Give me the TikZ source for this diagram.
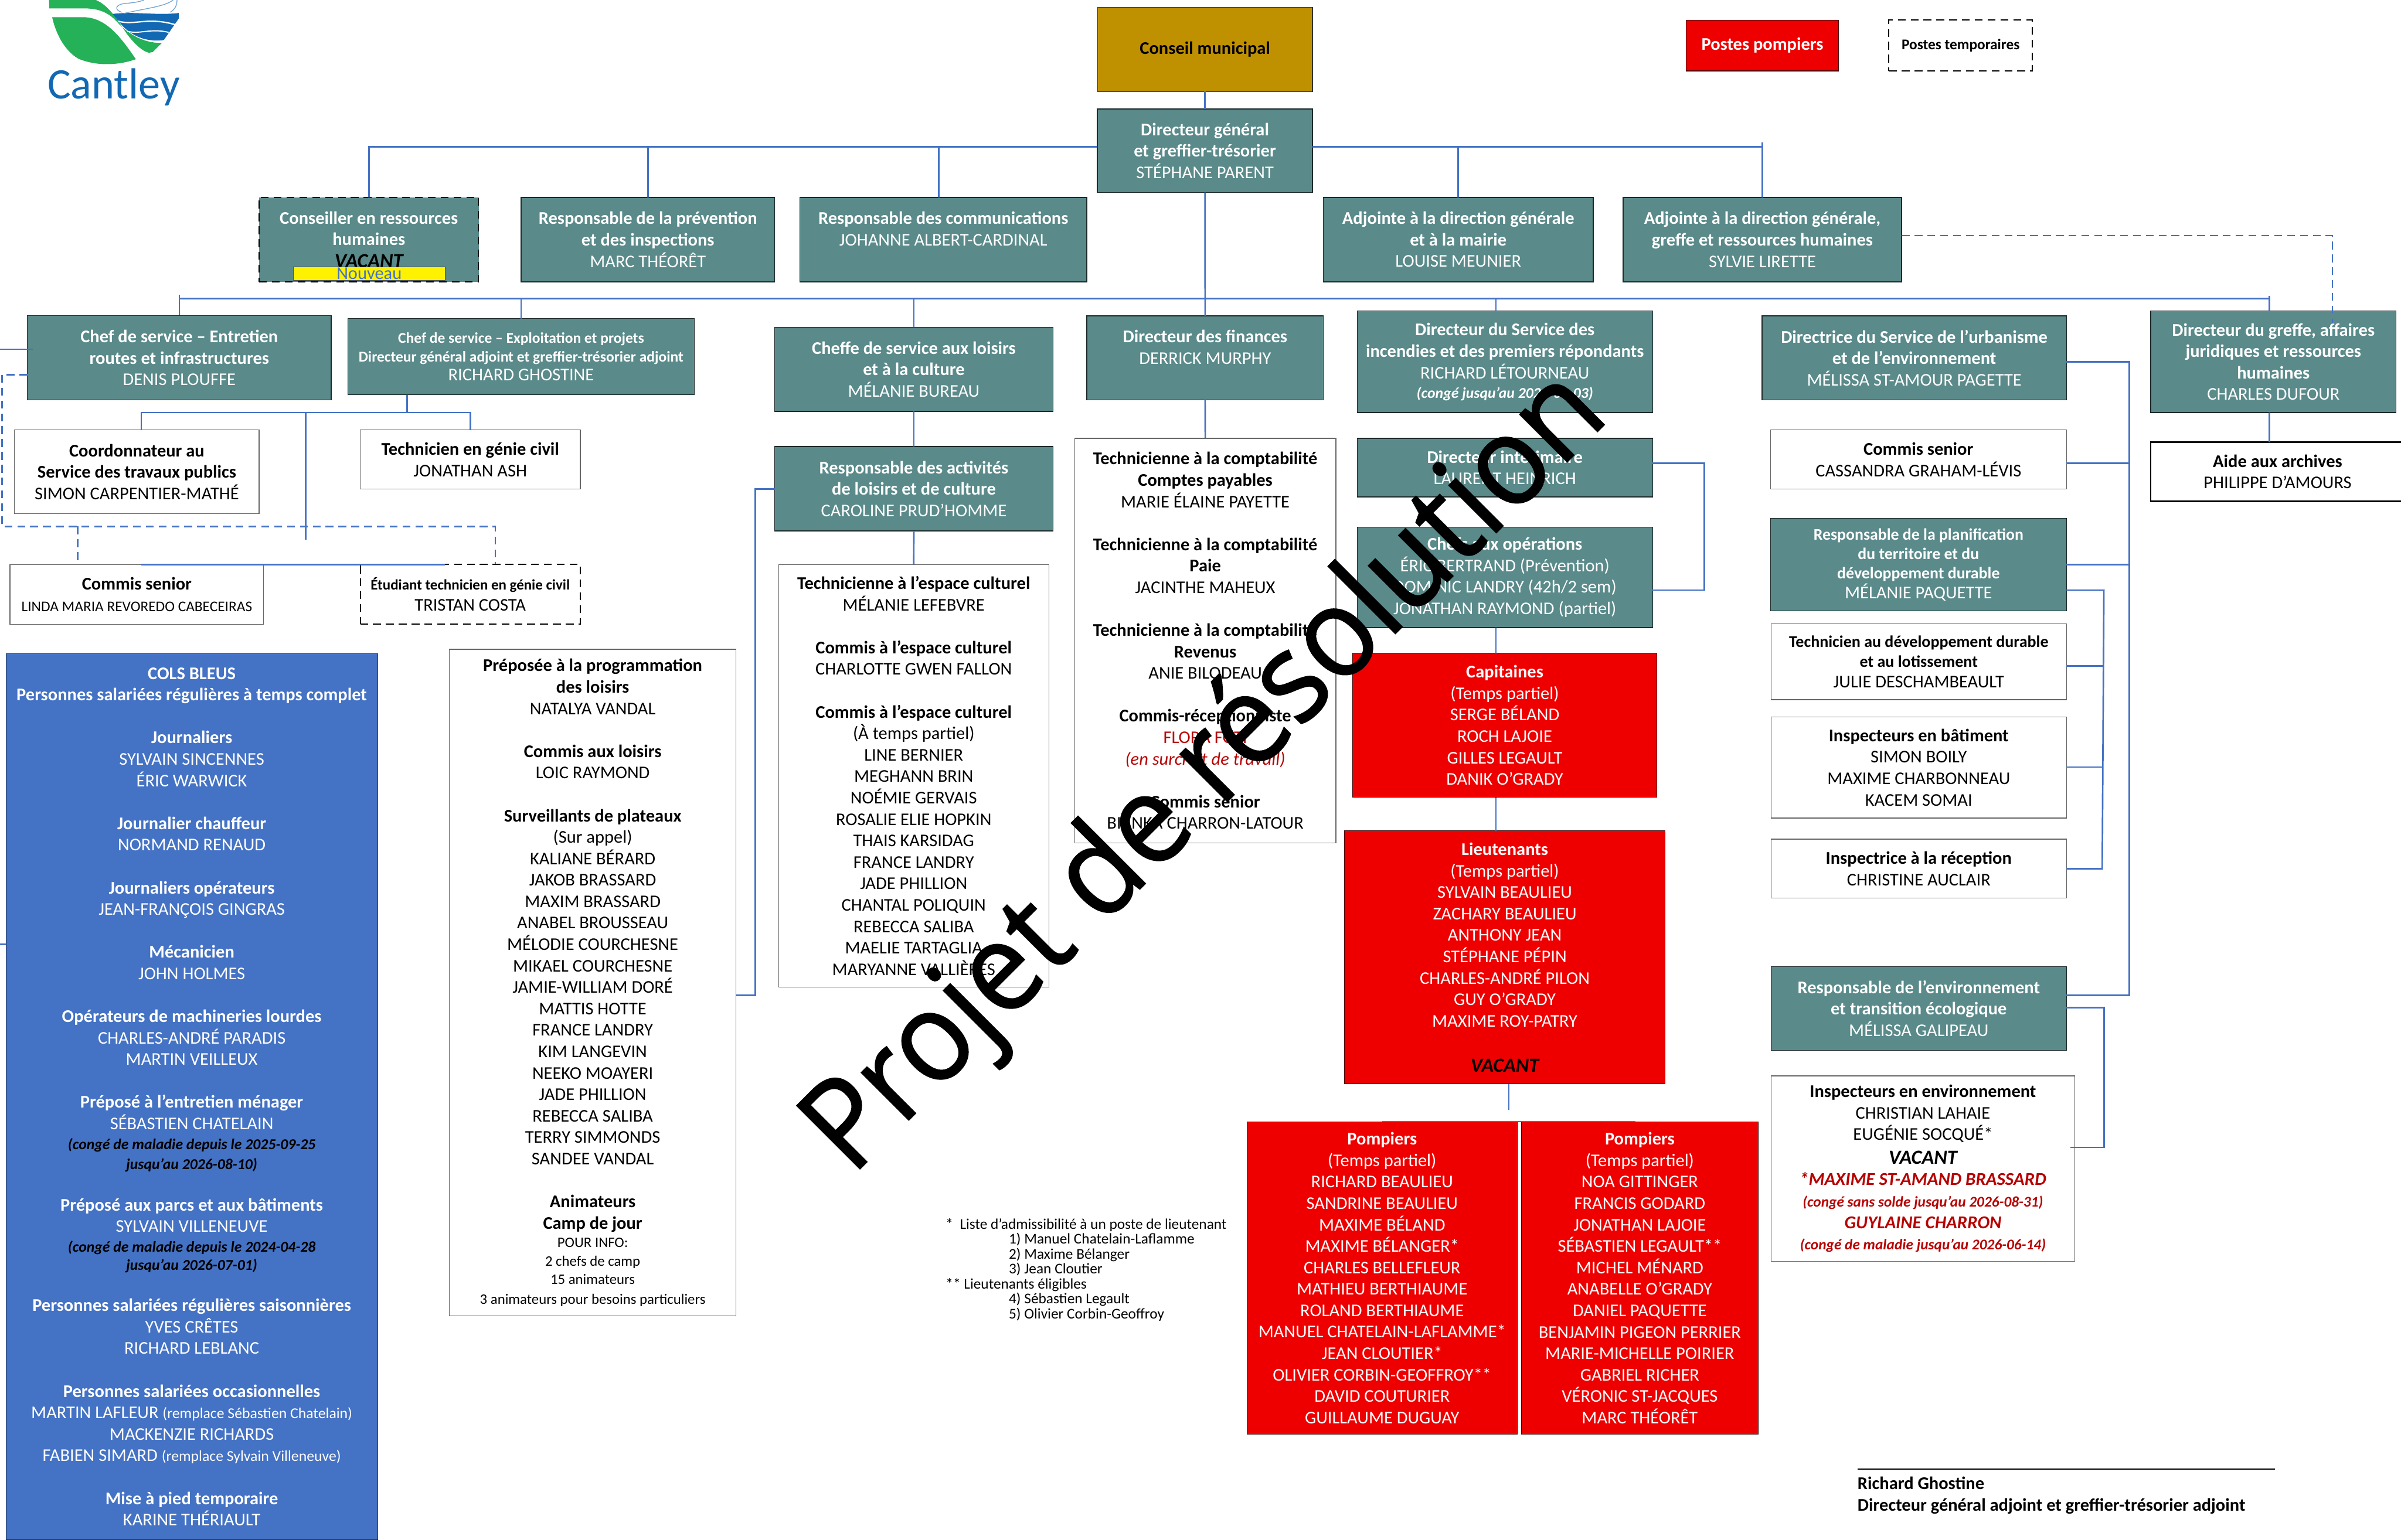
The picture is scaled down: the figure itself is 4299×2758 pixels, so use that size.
\documentclass[tikz,border=0pt]{standalone}
\usepackage{fontspec}
\setmainfont{Carlito}
\newfontfamily\wmfont[FakeStretch=0.935,FakeBold=1]{Open Sans}
\usetikzlibrary{calc}
\definecolor{tealb}{HTML}{5A8A8A}
\definecolor{goldb}{HTML}{BF9000}
\definecolor{redb}{HTML}{EE0000}
\definecolor{blueb}{HTML}{4472C4}
\definecolor{redt}{HTML}{B80000}
\definecolor{logoblue}{HTML}{1268B3}
\definecolor{logogreen}{HTML}{25B157}
\newcommand\bo[1]{{\bfseries #1}}
\newcommand\szz[1]{\fontsize{#1}{\baselineskip}\selectfont}
\newcommand\bi[1]{{\bfseries\itshape #1}}
\newcommand\bx[7]{\node[#2,minimum width={(#5-#3)*0.5pt},minimum height={(#6-#4)*0.5pt}] (#1) at ({(#3+#5)/2},{(#4+#6)/2}) {#7};}
\tikzset{
  fnt/.style n args={2}{font=\fontsize{#1}{#2}\selectfont},
  base/.style={inner sep=0pt,outer sep=0pt,align=center,text centered,fnt={16}{19.2}},
  tealbox/.style={base,fill=tealb,draw=black!70!tealb,line width=0.8pt,text=white},
  whitebox/.style={base,fill=white,draw=black!60,line width=0.7pt,text=black},
  blackbox/.style={base,fill=white,draw=black,line width=1.2pt,text=black},
  dashbox/.style={base,fill=white,draw=black,line width=1pt,dash pattern=on 7pt off 4.5pt,text=black},
  tealdash/.style={tealbox,draw=black,line width=1pt,dash pattern=on 7pt off 4.5pt},
  redbox/.style={base,fill=redb,draw=black!70!redb,line width=0.6pt,text=white},
  goldbox/.style={base,fill=goldb,draw=black!80,line width=0.6pt,text=black},
  bluebox/.style={base,fill=blueb,draw=black!60!blueb,line width=0.6pt,text=white},
  link/.style={draw=blueb,line width=1.4pt},
  dlink/.style={draw=blueb,line width=1.3pt,dash pattern=on 7pt off 4.5pt},
}
\begin{document}
\begin{tikzpicture}[x=0.5pt,y=-0.5pt]
\useasboundingbox (0,0) rectangle (4299,2758);
% logo
\fill[logogreen] (87.7,0) -- (171.7,0) .. controls (195,10) and (210,35) .. (226.7,60) .. controls (240,78) and (255,92) .. (266.7,94.5) -- (273.3,93.3) -- (290,76.7) .. controls (260,78) and (233,63) .. (213.3,43.3) .. controls (200,28) and (185,15) .. (150,15) -- (88.3,15) -- cycle;
\fill[logogreen] (93.3,30.7) -- (150,30.7) .. controls (190,32) and (215,65) .. (243.3,106) .. controls (210,118) and (170,118) .. (140,105) .. controls (115,90) and (100,60) .. (93.3,30.7) -- cycle;
\fill[logoblue] (201.7,25) .. controls (240,20) and (280,28) .. (320,23.3) -- (320,33.3) -- (293.3,71.7) .. controls (270,75) and (240,70) .. (216.7,43.3) -- cycle;
\draw[white,line width=1.2pt] (212,38) .. controls (240,46) and (265,30) .. (313,44);
\draw[white,line width=1pt] (228,56) .. controls (250,62) and (270,50) .. (302,58);
\draw[logoblue!60,line width=0.7pt] (218,22) .. controls (205,18) and (205,8) .. (225,6) .. controls (240,5) and (250,3) .. (258,0);
\draw[logoblue!60,line width=0.7pt] (222,24) .. controls (260,15) and (295,12) .. (310,0);
\draw[logoblue!60,line width=0.7pt] (305,22) .. controls (315,15) and (317,8) .. (317,0);
\node[anchor=base west,inner sep=0pt,text=logoblue,font=\fontsize{39}{39}\selectfont] (logotext) at (85,176.7) {Cantley};
% boxes row 0
\bx{conseil}{goldbox}{1965}{13}{2350}{164}{\bo{Conseil municipal}}
\bx{pompiers}{redbox}{3019}{36}{3292}{127}{\bo{Postes pompiers}}
\bx{temporaires}{dashbox,fnt={13.3}{16}}{3382}{36}{3639}{127}{\bo{Postes temporaires}}
\bx{dg}{tealbox}{1965}{195}{2350}{345}{\bo{Directeur général}\\\bo{et greffier-trésorier}\\STÉPHANE PARENT}
% row 1
\bx{conseiller}{tealdash}{464}{353.5}{857}{504.6}{\bo{Conseiller en ressources}\\\bo{humaines}\\[0.7pt]{\color{black}\bi{\szz{18}VACANT}}}
\bx{prevention}{tealbox}{933}{353.5}{1387}{504.6}{\bo{Responsable de la prévention}\\\bo{et des inspections}\\MARC THÉORÊT}
\bx{comms}{tealbox}{1432}{353.5}{1946}{504.6}{\bo{Responsable des communications}\\JOHANNE ALBERT-CARDINAL\\~}
\bx{mairie}{tealbox}{2369.5}{353.5}{2852.6}{504.6}{\bo{Adjointe à la direction générale}\\\bo{et à la mairie}\\LOUISE MEUNIER}
\bx{greffeadj}{tealbox}{2906}{353.5}{3405}{504.6}{\bo{Adjointe à la direction générale,}\\\bo{greffe et ressources humaines}\\SYLVIE LIRETTE}
\node[fill=yellow,draw=black!70,line width=0.5pt,inner sep=0pt,minimum width=136pt,minimum height=12pt,text=blueb,fnt={16}{16}] (nouveau) at (661,490) {Nouveau};
% row 2
\bx{entretien}{tealbox}{49}{565}{593}{716.5}{\bo{Chef de service – Entretien}\\\bo{routes et infrastructures}\\DENIS PLOUFFE}
\bx{exploit}{tealbox,fnt={13.4}{16.6}}{623}{570.6}{1243}{707}{\bo{Chef de service – Exploitation et projets}\\\bo{Directeur général adjoint et greffier-trésorier adjoint}\\{\szz{16}RICHARD GHOSTINE}}
\bx{cheffe}{tealbox}{1387}{586}{1885.5}{737}{\bo{Cheffe de service aux loisirs}\\\bo{et à la culture}\\MÉLANIE BUREAU}
\bx{finances}{tealbox}{1946}{565.5}{2369.5}{716.5}{\bo{Directeur des finances}\\DERRICK MURPHY\\~}
\bx{incendies}{tealbox}{2430}{557}{2959}{739}{\bo{Directeur du Service des}\\\bo{incendies et des premiers répondants}\\RICHARD LÉTOURNEAU\\[-1.9pt]\bi{\szz{13.5}(congé jusqu’au 2026-08-03)}}
\bx{urbanisme}{tealbox}{3155}{565.5}{3700}{716.5}{\bo{Directrice du Service de l’urbanisme}\\\bo{et de l’environnement}\\MÉLISSA ST-AMOUR PAGETTE}
\bx{greffe}{tealbox}{3851}{557}{4290}{739}{\bo{Directeur du greffe, affaires}\\\bo{juridiques et ressources}\\\bo{humaines}\\CHARLES DUFOUR}
% row 3
\bx{coordo}{whitebox}{26}{770}{464}{920}{\bo{Coordonnateur au}\\\bo{Service des travaux publics}\\SIMON CARPENTIER-MATHÉ}
\bx{genie}{whitebox}{645}{770}{1039}{876}{\bo{Technicien en génie civil}\\JONATHAN ASH}
\bx{senior}{whitebox}{18}{1011}{472}{1118}{\bo{Commis senior}\\{\szz{13.3}LINDA MARIA REVOREDO CABECEIRAS}}
\bx{etudiant}{dashbox}{645}{1011}{1039}{1118}{\bo{\szz{13.1}Étudiant technicien en génie civil}\\TRISTAN COSTA}
\bx{activites}{tealbox}{1387}{800}{1885.5}{951}{\bo{Responsable des activités}\\\bo{de loisirs et de culture}\\CAROLINE PRUD’HOMME}
\bx{compta}{whitebox}{1924}{785}{2392}{1510}{\bo{Technicienne à la comptabilité}\\\bo{Comptes payables}\\MARIE ÉLAINE PAYETTE\\~\\\bo{Technicienne à la comptabilité}\\\bo{Paie}\\JACINTHE MAHEUX\\~\\\bo{Technicienne à la comptabilité}\\\bo{Revenus}\\ANIE BILODEAU\\~\\\bo{Commis-réceptionniste}\\{\color{redt}FLORA FOTI}\\{\color{redt}\itshape (en surcroît de travail)}\\~\\\bo{Commis senior}\\BIANKA CHARRON-LATOUR}
\bx{culturel}{whitebox}{1394}{1011}{1878}{1768}{\bo{Technicienne à l’espace culturel}\\MÉLANIE LEFEBVRE\\~\\\bo{Commis à l’espace culturel}\\CHARLOTTE GWEN FALLON\\~\\\bo{Commis à l’espace culturel}\\(À temps partiel)\\LINE BERNIER\\MEGHANN BRIN\\NOÉMIE GERVAIS\\ROSALIE ELIE HOPKIN\\THAIS KARSIDAG\\FRANCE LANDRY\\JADE PHILLION\\CHANTAL POLIQUIN\\REBECCA SALIBA\\MAELIE TARTAGLIA\\MARYANNE VALLIÈRES}
\bx{interim}{tealbox}{2430}{785}{2959}{890}{\bo{Directeur intérimaire}\\LAURENT HEINRICH}
\bx{chefsop}{tealbox}{2430}{944}{2959}{1124}{\bo{Chefs aux opérations}\\ÉRIC BERTRAND (Prévention)\\DOMINIC LANDRY (42h/2 sem)\\JONATHAN RAYMOND (partiel)}
\bx{archives}{blackbox}{3851}{792}{4305}{898}{\bo{Aide aux archives}\\PHILIPPE D’AMOURS}
\bx{commisur}{whitebox}{3170}{770}{3700}{876}{\bo{Commis senior}\\CASSANDRA GRAHAM-LÉVIS}
\bx{planif}{tealbox,fnt={14.6}{17.5}}{3170}{928.5}{3700}{1094}{\bo{Responsable de la planification}\\\bo{du territoire et du}\\\bo{développement durable}\\{\szz{16}MÉLANIE PAQUETTE}}
\bx{techdev}{whitebox,fnt={14.7}{18}}{3171}{1117}{3700}{1253}{\bo{Technicien au développement durable}\\\bo{et au lotissement}\\{\szz{16}JULIE DESCHAMBEAULT}}
\bx{inspbat}{whitebox}{3171}{1284}{3700}{1465}{\bo{Inspecteurs en bâtiment}\\SIMON BOILY\\MAXIME CHARBONNEAU\\KACEM SOMAI}
\bx{inspect}{whitebox}{3171}{1503}{3700}{1608.6}{\bo{Inspectrice à la réception}\\CHRISTINE AUCLAIR}
\bx{respenv}{tealbox}{3171}{1731}{3700}{1881.5}{\bo{Responsable de l’environnement}\\\bo{et transition écologique}\\MÉLISSA GALIPEAU}
\bx{inspenv}{whitebox}{3171}{1927}{3715}{2259}{\bo{Inspecteurs en environnement}\\CHRISTIAN LAHAIE\\EUGÉNIE SOCQUÉ*\\[2pt]\bi{\szz{18}VACANT}\\{\color{redt}\bi{\szz{16.2}*MAXIME ST-AMAND BRASSARD}}\\{\color{redt}\bi{\szz{13.3}(congé sans solde jusqu’au 2026-08-31)}}\\{\color{redt}\bi{\szz{16.2}GUYLAINE CHARRON}}\\{\color{redt}\bi{\szz{13.3}(congé de maladie jusqu’au 2026-06-14)}}}
% red
\bx{capitaines}{redbox}{2422}{1170}{2966.5}{1428}{\bo{Capitaines}\\(Temps partiel)\\SERGE BÉLAND\\ROCH LAJOIE\\GILLES LEGAULT\\DANIK O’GRADY}
\bx{lieutenants}{redbox}{2407}{1488}{2981.6}{1941.5}{\bo{Lieutenants}\\(Temps partiel)\\SYLVAIN BEAULIEU\\ZACHARY BEAULIEU\\ANTHONY JEAN\\STÉPHANE PÉPIN\\CHARLES-ANDRÉ PILON\\GUY O’GRADY\\MAXIME ROY-PATRY\\~\\[2pt]{\color{black}\bi{\szz{18}VACANT}}}
\bx{pomp1}{redbox}{2232.6}{2009}{2716.7}{2569}{\bo{Pompiers}\\(Temps partiel)\\RICHARD BEAULIEU\\SANDRINE BEAULIEU\\MAXIME BÉLAND\\MAXIME BÉLANGER*\\CHARLES BELLEFLEUR\\MATHIEU BERTHIAUME\\ROLAND BERTHIAUME\\MANUEL CHATELAIN-LAFLAMME*\\JEAN CLOUTIER*\\OLIVIER CORBIN-GEOFFROY**\\DAVID COUTURIER\\GUILLAUME DUGUAY}
\bx{pomp2}{redbox}{2724}{2009}{3148}{2569}{\bo{Pompiers}\\(Temps partiel)\\NOA GITTINGER\\FRANCIS GODARD\\JONATHAN LAJOIE\\SÉBASTIEN LEGAULT**\\MICHEL MÉNARD\\ANABELLE O’GRADY\\DANIEL PAQUETTE\\BENJAMIN PIGEON PERRIER\\MARIE-MICHELLE POIRIER\\GABRIEL RICHER\\VÉRONIC ST-JACQUES\\MARC THÉORÊT}
% bottom left
\bx{cols}{bluebox}{10.7}{1170.5}{676}{2758}{\bo{COLS BLEUS}\\\bo{Personnes salariées régulières à temps complet}\\~\\\bo{Journaliers}\\SYLVAIN SINCENNES\\ÉRIC WARWICK\\~\\\bo{Journalier chauffeur}\\NORMAND RENAUD\\~\\\bo{Journaliers opérateurs}\\JEAN-FRANÇOIS GINGRAS\\~\\\bo{Mécanicien}\\JOHN HOLMES\\~\\\bo{Opérateurs de machineries lourdes}\\CHARLES-ANDRÉ PARADIS\\MARTIN VEILLEUX\\~\\\bo{Préposé à l’entretien ménager}\\SÉBASTIEN CHATELAIN\\[-1.5pt]{\color{black}\bi{\szz{13.5}(congé de maladie depuis le 2025-09-25}}\\[-1pt]{\color{black}\bi{\szz{13.5}jusqu’au 2026-08-10)}}\\[-1.5pt]~\\\bo{Préposé aux parcs et aux bâtiments}\\SYLVAIN VILLENEUVE\\[-1.5pt]{\color{black}\bi{\szz{13.5}(congé de maladie depuis le 2024-04-28}}\\[-3pt]{\color{black}\bi{\szz{13.5}jusqu’au 2026-07-01)}}\\[-1.5pt]~\\\bo{Personnes salariées régulières saisonnières}\\YVES CRÊTES\\RICHARD LEBLANC\\~\\\bo{Personnes salariées occasionnelles}\\MARTIN LAFLEUR {\szz{13.5}(remplace Sébastien Chatelain)}\\MACKENZIE RICHARDS\\FABIEN SIMARD {\szz{13.5}(remplace Sylvain Villeneuve)}\\~\\\bo{Mise à pied temporaire}\\KARINE THÉRIAULT}
\bx{programmation}{whitebox}{804.5}{1163}{1318}{2357}{\bo{Préposée à la programmation}\\\bo{des loisirs}\\NATALYA VANDAL\\~\\\bo{Commis aux loisirs}\\LOIC RAYMOND\\~\\\bo{Surveillants de plateaux}\\(Sur appel)\\KALIANE BÉRARD\\JAKOB BRASSARD\\MAXIM BRASSARD\\ANABEL BROUSSEAU\\MÉLODIE COURCHESNE\\MIKAEL COURCHESNE\\JAMIE-WILLIAM DORÉ\\MATTIS HOTTE\\FRANCE LANDRY\\KIM LANGEVIN\\NEEKO MOAYERI\\JADE PHILLION\\REBECCA SALIBA\\TERRY SIMMONDS\\SANDEE VANDAL\\~\\\bo{Animateurs}\\\bo{Camp de jour}\\[-2.7pt]{\szz{13}POUR INFO:}\\[-2.7pt]{\szz{13}2 chefs de camp}\\[-2.7pt]{\szz{13}15 animateurs}\\[-1.4pt]{\szz{13}3 animateurs pour besoins particuliers}}
% footnote
\node[anchor=north west,inner sep=0pt,align=left,fnt={13.3}{13.35}] (notes) at (1693,2182) {*\hspace{6pt}Liste d’admissibilité à un poste de lieutenant\\\hspace*{56.5pt}1) Manuel Chatelain-Laflamme\\\hspace*{56.5pt}2) Maxime Bélanger\\\hspace*{56.5pt}3) Jean Cloutier\\** Lieutenants éligibles\\\hspace*{56.5pt}4) Sébastien Legault\\\hspace*{56.5pt}5) Olivier Corbin-Geoffroy};
% signature
\node[anchor=north west,inner sep=0pt,align=left,fnt={16}{19}] (signature) at (3325.6,2645) {\bo{Richard Ghostine}\\\bo{Directeur général adjoint et greffier-trésorier adjoint}};
\coordinate (sigA) at (3325.6,2631);
\coordinate (sigB) at (4073.5,2631);
\draw[black,line width=1.1pt] (sigA) -- (sigB);
% connector reference points
\coordinate (busA) at (0,262.6);
\coordinate (busB) at (0,535);
\coordinate (busC) at (0,739);
\coordinate (busD) at (0,966.6);
\coordinate (busE) at (0,1987.6);
% connectors top
\draw[link] (conseil.south) -- (dg.north);
\draw[link] (conseiller.north) |- (dg.west |- busA);
\draw[link] (prevention.north) -- (prevention.north |- busA);
\draw[link] (comms.north -| 1681,0) -- (1681,262.6);
\draw[link] (dg.east |- busA) -- (greffeadj.north |- busA);
\draw[link] (mairie.north) -- (mairie.north |- busA);
\draw[link] (greffeadj.north) -- ++(0,-98.5);
\draw[link] (dg.south) -- (finances.north);
\draw[link] (entretien.north) -- ++(0,-37);
\draw[link] (entretien.north |- busB) -- (4063,535);
\draw[link] (exploit.north) -- (exploit.north |- busB);
\draw[link] (cheffe.north) -- (cheffe.north |- busB);
\draw[link] (incendies.north -| 2678.5,0) -- (2678.5,535);
\draw[link] (greffe.north -| 4063,0) -- (4063,530);
\draw[dlink] (greffeadj.east |- 0,421.7) -- (4176,421.7) -- (greffe.north -| 4176,0) -- ++(0,22);
\draw[link] (greffe.south -| 4063,0) -- (archives.north -| 4063,0);
% exploitation group
\draw[link] (exploit.south -| 729,0) -- (729,739);
\draw[link] (coordo.north -| 253,0) |- (genie.north |- busC) -- (genie.north);
\draw[link] (547,739) -- (547,966.6);
\draw[link] (senior.north -| 253,0) |- (etudiant.north -| 797,0 |- busD) -- (etudiant.north -| 797,0);
\draw[dlink] (entretien.west |- 0,671) -- (3.5,671) -- (3.5,943) -- (887,943) -- (etudiant.north -| 887,0);
\draw[dlink] (139,943) -- (senior.north -| 139,0);
\draw[link] (0,625.6) -- (entretien.west |- 0,625.6) -- ++(10,0);
\draw[link] (0,1691) -- (cols.west |- 0,1691);
% loisirs
\draw[link] (cheffe.south) -- (activites.north);
\draw[link] (activites.south) -- (culturel.north);
\draw[link] (activites.west |- 0,875.7) -- (1352,875.7) -- (1352,1782.5) -- (programmation.east |- 0,1782.5);
% finances
\draw[link] (finances.south) -- (compta.north);
% incendies
\draw[link] (interim.east |- 0,829.5) -- (3051.4,829.5) -- (3051.4,1057) -- (chefsop.east |- 0,1057);
\draw[link] (chefsop.south -| 2678.5,0) -- (capitaines.north -| 2678.5,0);
\draw[link] (capitaines.south -| 2678.5,0) -- (lieutenants.north -| 2678.5,0);
\draw[link] (lieutenants.south -| 2701.6,0) -- (2701.6,1987.6);
\draw[link] (pomp1.north -| 2474.7,0) |- (pomp2.north -| 2928.6,0 |- busE) -- (pomp2.north -| 2928.6,0);
% urbanisme
\draw[link] (urbanisme.east |- 0,648) -- (3812.5,648) -- (3812.5,1783) -- (respenv.east |- 0,1783);
\draw[link] (commisur.east |- 0,829.5) -- (3812.5,829.5);
\draw[link] (planif.east |- 0,1011) -- (3812.5,1011);
\draw[link] (planif.east |- 0,1057) -- (3767,1057) -- (3764,1556) -- (inspect.east |- 0,1556);
\draw[link] (techdev.east |- 0,1193) -- (3766,1193);
\draw[link] (inspbat.east |- 0,1374) -- (3765,1374);
\draw[link] (respenv.east |- 0,1805) -- (3767.6,1805) -- (3767.6,2055) -- (3707,2055);
% watermark
\node[anchor=base west,rotate=45,inner sep=0pt,text=black,font=\wmfont\fontsize{112}{112}\selectfont] (watermark) at (1525,2108) {Projet de résolution};
\end{tikzpicture}
\end{document}
